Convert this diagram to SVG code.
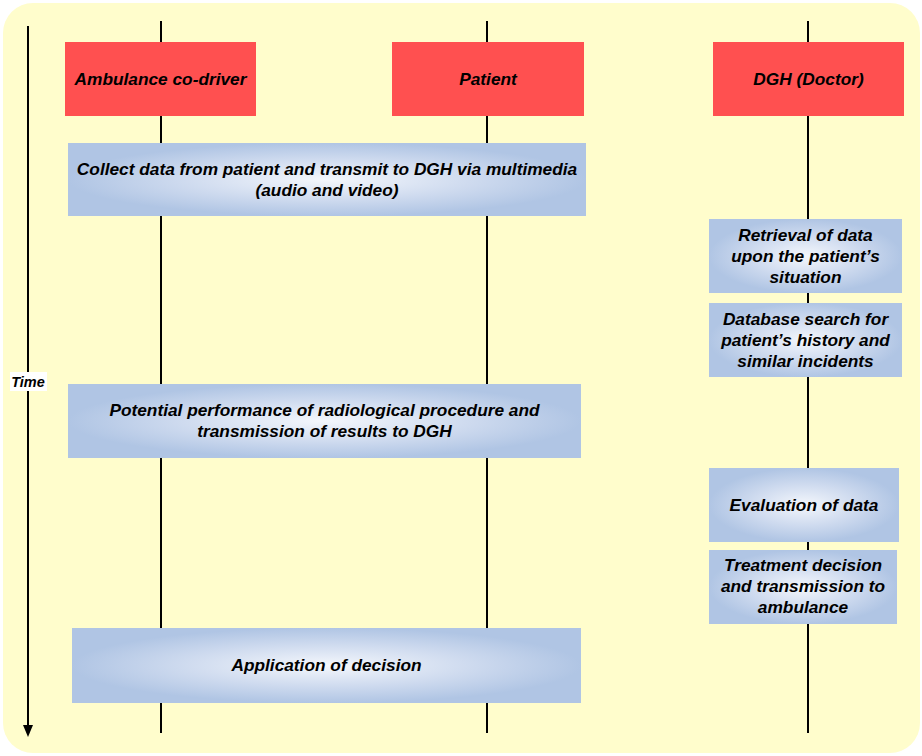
<svg xmlns="http://www.w3.org/2000/svg" width="922" height="756" viewBox="0 0 922 756">
  <style>
    .lbl { font-family: "Liberation Sans", Arial, sans-serif; font-weight: bold; font-style: italic; font-size: 17.3px; fill: #000; text-anchor: middle; }
    .life { stroke: #000; stroke-width: 2; fill: none; }
    .actor { fill: #FF5050; }
    .step { fill: url(#stepFill); }
  </style>
  <defs>
    <radialGradient id="stepFill" cx="50%" cy="50%" r="50%">
      <stop offset="0" stop-color="#F4F7FC"/>
      <stop offset="0.55" stop-color="#CFDBEF"/>
      <stop offset="1" stop-color="#B0C5E4"/>
    </radialGradient>
  </defs>

  <!-- backdrop -->
  <rect x="3" y="3" width="917" height="750" rx="30" ry="30" fill="#FFFDCC"/>

  <!-- lifelines and time axis -->
  <g id="connectors">
    <line class="life" x1="161" y1="21" x2="161" y2="733"/>
    <line class="life" x1="487" y1="21" x2="487" y2="733"/>
    <line class="life" x1="808" y1="21" x2="808" y2="733"/>
    <line class="life" x1="28" y1="26" x2="28" y2="726"/>
    <path d="M23,725 L33,725 L28,737 Z" fill="#000"/>
  </g>

  <g id="time-label">
    <rect x="10" y="372" width="37" height="19" fill="#fff"/>
    <text x="28" y="387" class="lbl" style="font-size:14.5px">Time</text>
  </g>

  <!-- actors -->
  <g id="actor-ambulance">
    <rect class="actor" x="65" y="42" width="191" height="74"/>
    <text class="lbl" x="160.5" y="85">Ambulance co-driver</text>
  </g>
  <g id="actor-patient">
    <rect class="actor" x="392" y="42" width="192" height="74"/>
    <text class="lbl" x="488" y="85">Patient</text>
  </g>
  <g id="actor-dgh">
    <rect class="actor" x="713" y="42" width="191" height="74"/>
    <text class="lbl" x="808.5" y="85">DGH (Doctor)</text>
  </g>

  <!-- steps -->
  <g id="step-collect">
    <rect class="step" x="68" y="143" width="518" height="73"/>
    <text class="lbl" x="327" y="175">Collect data from patient and transmit to DGH via multimedia</text>
    <text class="lbl" x="327" y="196">(audio and video)</text>
  </g>
  <g id="step-retrieval">
    <rect class="step" x="709" y="219" width="193" height="74"/>
    <text class="lbl" x="805.5" y="241">Retrieval of data</text>
    <text class="lbl" x="805.5" y="262">upon the patient’s</text>
    <text class="lbl" x="805.5" y="283">situation</text>
  </g>
  <g id="step-database">
    <rect class="step" x="709" y="303" width="193" height="74"/>
    <text class="lbl" x="805.5" y="325">Database search for</text>
    <text class="lbl" x="805.5" y="346">patient’s history and</text>
    <text class="lbl" x="805.5" y="367">similar incidents</text>
  </g>
  <g id="step-radiology">
    <rect class="step" x="68" y="384" width="513" height="74"/>
    <text class="lbl" x="324.5" y="416">Potential performance of radiological procedure and</text>
    <text class="lbl" x="324.5" y="437">transmission of results to DGH</text>
  </g>
  <g id="step-evaluation">
    <rect class="step" x="709" y="468" width="190" height="74"/>
    <text class="lbl" x="804" y="511">Evaluation of data</text>
  </g>
  <g id="step-treatment">
    <rect class="step" x="709" y="550" width="188" height="74"/>
    <text class="lbl" x="803" y="571">Treatment decision</text>
    <text class="lbl" x="803" y="592">and transmission to</text>
    <text class="lbl" x="803" y="613">ambulance</text>
  </g>
  <g id="step-application">
    <rect class="step" x="72" y="628" width="509" height="75"/>
    <text class="lbl" x="326.5" y="671">Application of decision</text>
  </g>
</svg>
